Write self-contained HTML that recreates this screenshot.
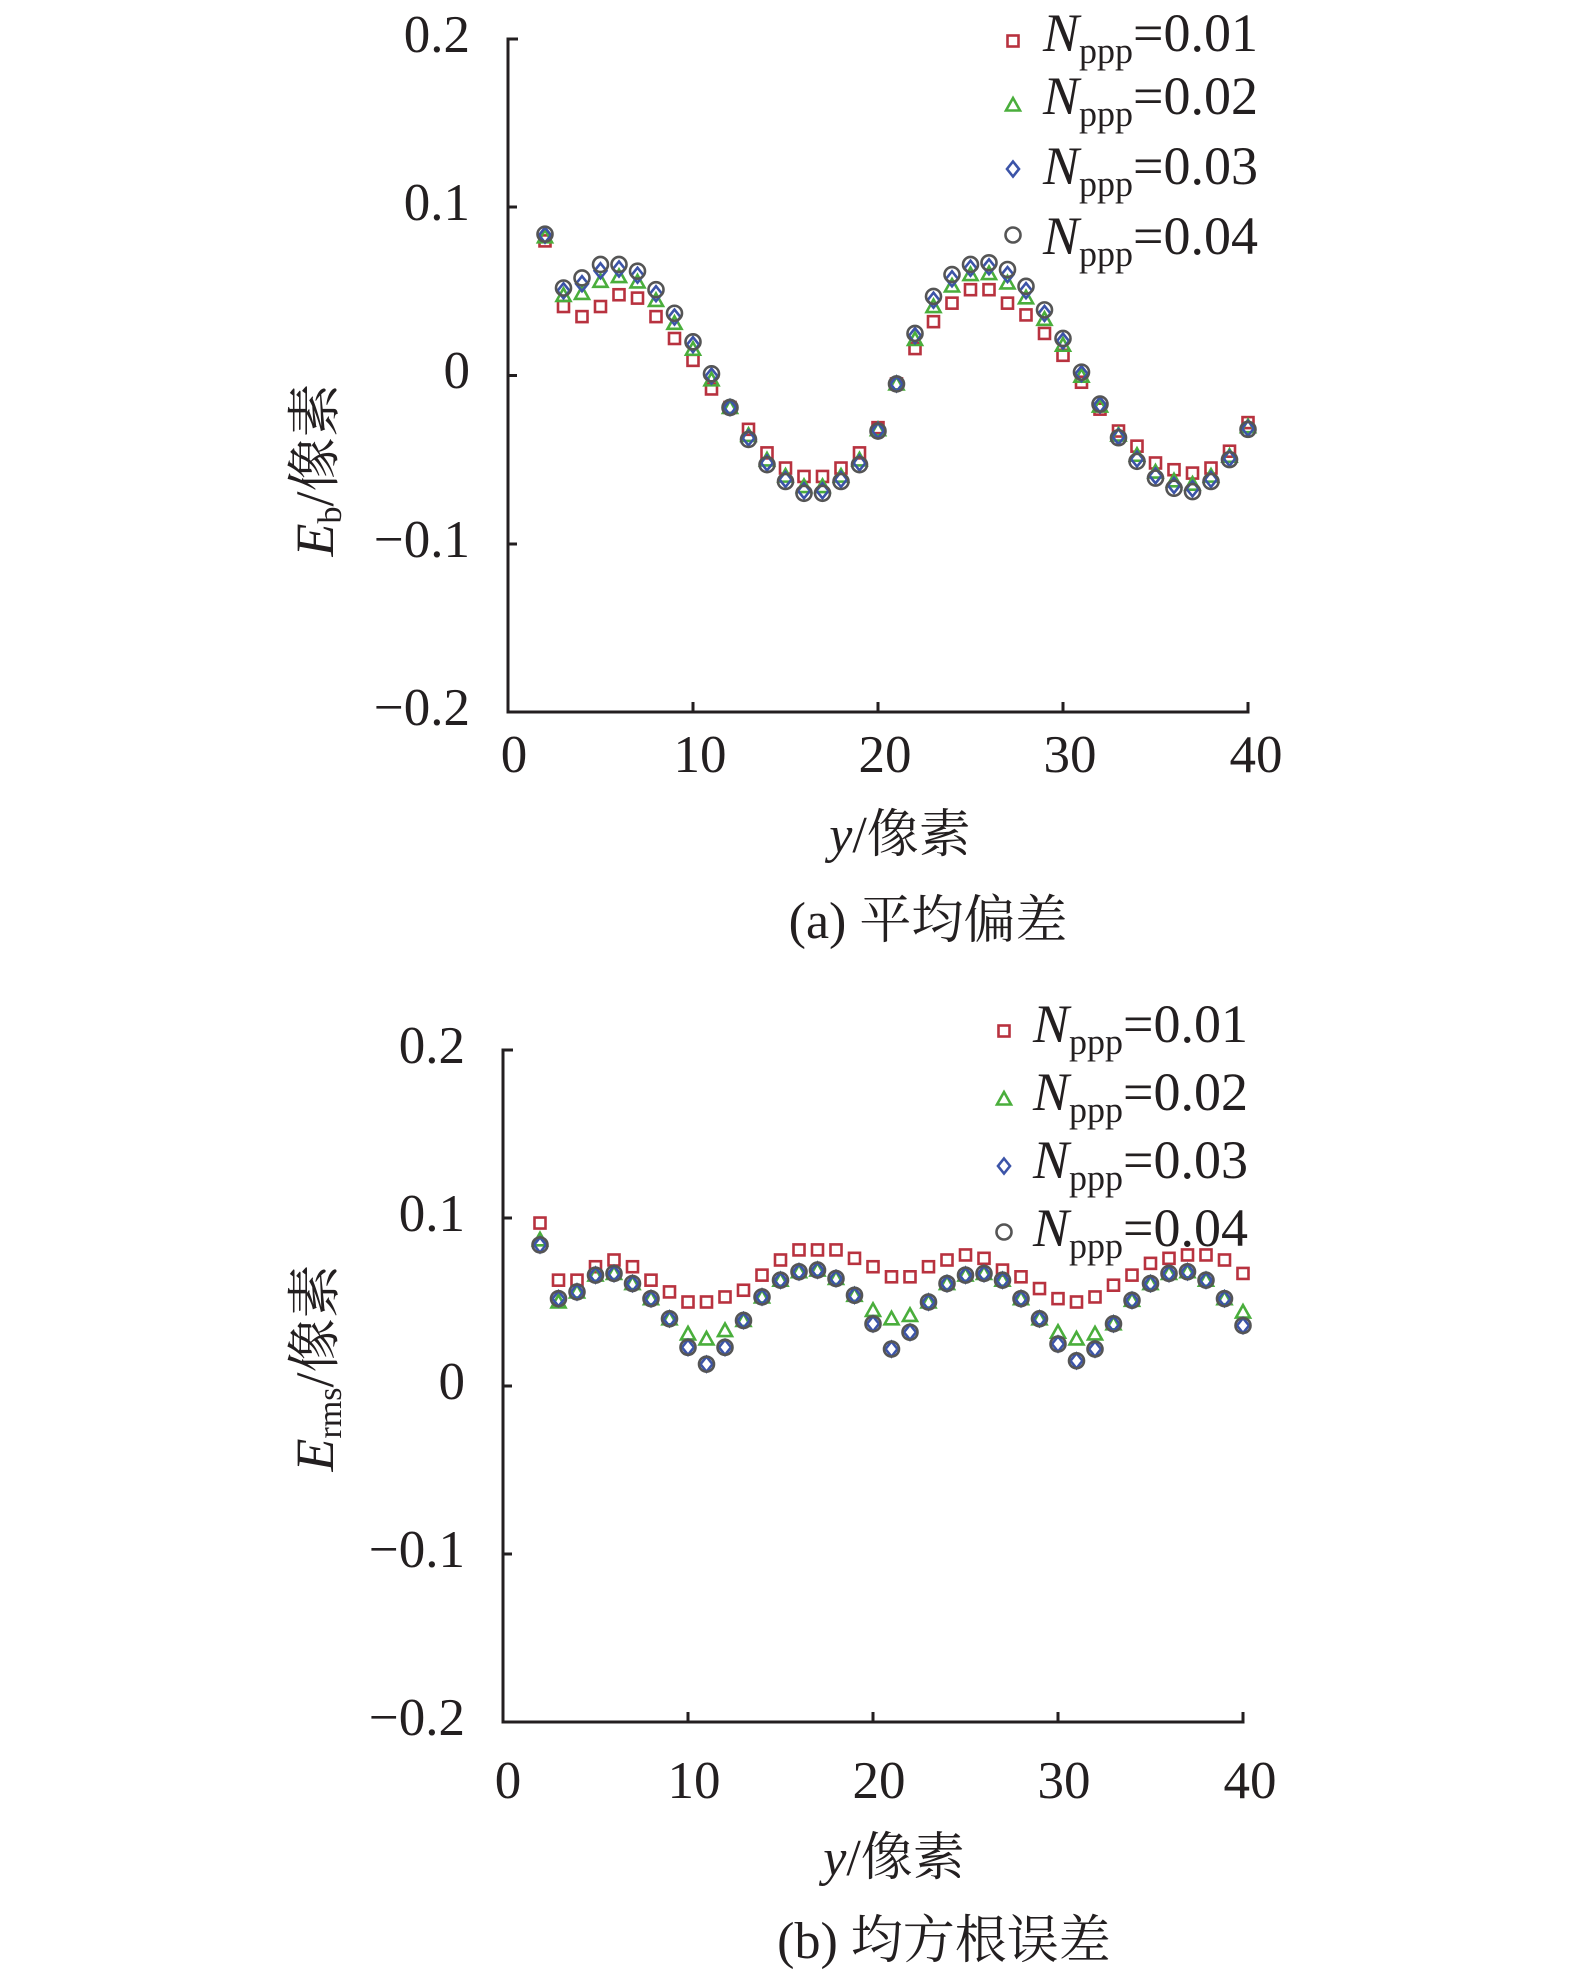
<!DOCTYPE html>
<html><head><meta charset="utf-8"><style>
html,body{margin:0;padding:0;background:#fff;}
svg{display:block;}
text{font-family:"Liberation Serif","Noto Serif CJK SC",serif;fill:#231f20;}
</style></head><body>
<svg id="s" width="1575" height="1980" viewBox="0 0 1575 1980" xmlns="http://www.w3.org/2000/svg">
<g stroke="#231f20" stroke-width="3" fill="none">
<path d="M518,39 H508 V712 H1248 V702"/>
<path d="M508,207 h9 M508,375.5 h9 M508,544 h9 M693,712 v-10 M878,712 v-10 M1063,712 v-10"/>
<path d="M513,1050 H503 V1722 H1243 V1712"/>
<path d="M503,1218 h9 M503,1386 h9 M503,1554 h9 M688,1722 v-10 M873,1722 v-10 M1058,1722 v-10"/>
</g>
<g font-size="53" text-anchor="end">
<text x="470" y="52">0.2</text><text x="470" y="220">0.1</text><text x="470" y="388">0</text><text x="470" y="557">−0.1</text><text x="470" y="725">−0.2</text>
<text x="465" y="1063">0.2</text><text x="465" y="1231">0.1</text><text x="465" y="1399">0</text><text x="465" y="1567">−0.1</text><text x="465" y="1735">−0.2</text>
</g>
<g font-size="53" text-anchor="middle">
<text x="514" y="772">0</text><text x="700" y="772">10</text><text x="885" y="772">20</text><text x="1070" y="772">30</text><text x="1256" y="772">40</text>
<text x="508" y="1798">0</text><text x="694" y="1798">10</text><text x="879" y="1798">20</text><text x="1064" y="1798">30</text><text x="1250" y="1798">40</text>
</g>
<g font-size="52" text-anchor="middle">
<text x="900" y="852"><tspan font-style="italic">y</tspan>/像素</text>
<text x="928" y="938">(a) 平均偏差</text>
<text x="894" y="1875"><tspan font-style="italic">y</tspan>/像素</text>
<text x="944" y="1958">(b) 均方根误差</text>
<text transform="translate(333,470) rotate(-90)" font-size="54"><tspan font-style="italic">E</tspan><tspan font-size="34" dy="8">b</tspan><tspan dy="-8">/像素</tspan></text>
<text transform="translate(333,1368) rotate(-90)" font-size="54"><tspan font-style="italic">E</tspan><tspan font-size="34" dy="8">rms</tspan><tspan dy="-8">/像素</tspan></text>
</g>
<g id="leg" font-size="54"></g>
<g id="pts" fill="none" stroke-width="2.6"></g>
</svg>
<script>
var NS="http://www.w3.org/2000/svg";
var C=["#b8323f","#4aae3c","#3c54a8","#555555"];
function mk(t,x,y,g){var e;
 if(t==0){e=document.createElementNS(NS,"rect");e.setAttribute("x",x-5.5);e.setAttribute("y",y-5.5);e.setAttribute("width",11);e.setAttribute("height",11);}
 else if(t==1){e=document.createElementNS(NS,"path");e.setAttribute("d","M"+x+","+(y-7)+" L"+(x+7)+","+(y+5.5)+" L"+(x-7)+","+(y+5.5)+"Z");}
 else if(t==2){e=document.createElementNS(NS,"path");e.setAttribute("d","M"+x+","+(y-7.5)+" L"+(x+6)+","+y+" L"+x+","+(y+7.5)+" L"+(x-6)+","+y+"Z");}
 else {e=document.createElementNS(NS,"circle");e.setAttribute("cx",x);e.setAttribute("cy",y);e.setAttribute("r",7.5);}
 e.setAttribute("stroke",C[t]);g.appendChild(e);}
var aR=[0.080,0.041,0.035,0.041,0.048,0.046,0.035,0.022,0.009,-0.008,-0.019,-0.032,-0.046,-0.055,-0.060,-0.060,-0.055,-0.046,-0.031,-0.005,0.016,0.032,0.043,0.051,0.051,0.043,0.036,0.025,0.012,-0.004,-0.020,-0.033,-0.042,-0.052,-0.056,-0.058,-0.055,-0.045,-0.028];
var aG=[0.084,0.052,0.058,0.066,0.066,0.062,0.051,0.037,0.020,0.001,-0.019,-0.038,-0.053,-0.063,-0.070,-0.070,-0.063,-0.053,-0.033,-0.005,0.025,0.047,0.060,0.066,0.067,0.063,0.053,0.039,0.022,0.002,-0.017,-0.037,-0.051,-0.061,-0.067,-0.069,-0.063,-0.050,-0.032];
var bR=[0.097,0.063,0.063,0.071,0.075,0.071,0.063,0.056,0.050,0.050,0.053,0.057,0.066,0.075,0.081,0.081,0.081,0.076,0.071,0.065,0.065,0.071,0.075,0.078,0.076,0.069,0.065,0.058,0.052,0.050,0.053,0.060,0.066,0.073,0.076,0.078,0.078,0.075,0.067];
var bG=[0.084,0.052,0.056,0.066,0.067,0.061,0.052,0.040,0.023,0.013,0.023,0.039,0.053,0.063,0.068,0.069,0.064,0.054,0.037,0.022,0.032,0.050,0.061,0.066,0.067,0.063,0.052,0.040,0.025,0.015,0.022,0.037,0.051,0.061,0.067,0.068,0.063,0.052,0.036];
var gfix={2:0.087,3:0.050,10:0.031,11:0.028,12:0.033,20:0.045,21:0.040,22:0.042,30:0.032,31:0.028,32:0.031,40:0.044};
var g=document.getElementById("pts");
for(var i=0;i<39;i++){var xv=i+2;
 var x=508+xv*18.5, f=function(v){return 375.5-v*1682.5;};
 var r=aR[i],q=aG[i];
 [r, r+0.6*(q-r), r+0.85*(q-r), q].forEach(function(v,t){mk(t,x,f(v),g);});
 var x2=503+xv*18.5, f2=function(v){return 1386-v*1680;};
 var gv=(xv in gfix)?gfix[xv]:bG[i];
 [bR[i], gv, bG[i], bG[i]].forEach(function(v,t){mk(t,x2,f2(v),g);});
}
var L=document.getElementById("leg");
var labs=["0.01","0.02","0.03","0.04"];
function leg(mx,tx,ys,bs){for(var k=0;k<4;k++){mk(k,mx,ys[k],g);
 var t=document.createElementNS(NS,"text");t.setAttribute("x",tx);t.setAttribute("y",bs[k]);
 t.innerHTML='<tspan font-style="italic">N</tspan><tspan font-size="36" dy="12">ppp</tspan><tspan dy="-12">='+labs[k]+'</tspan>';
 L.appendChild(t);}}
leg(1013,1043,[41,105,169,235],[51,114,184,254]);
leg(1004,1033,[1031,1099,1166,1232],[1042,1110,1178,1246]);
</script>
</body></html>
